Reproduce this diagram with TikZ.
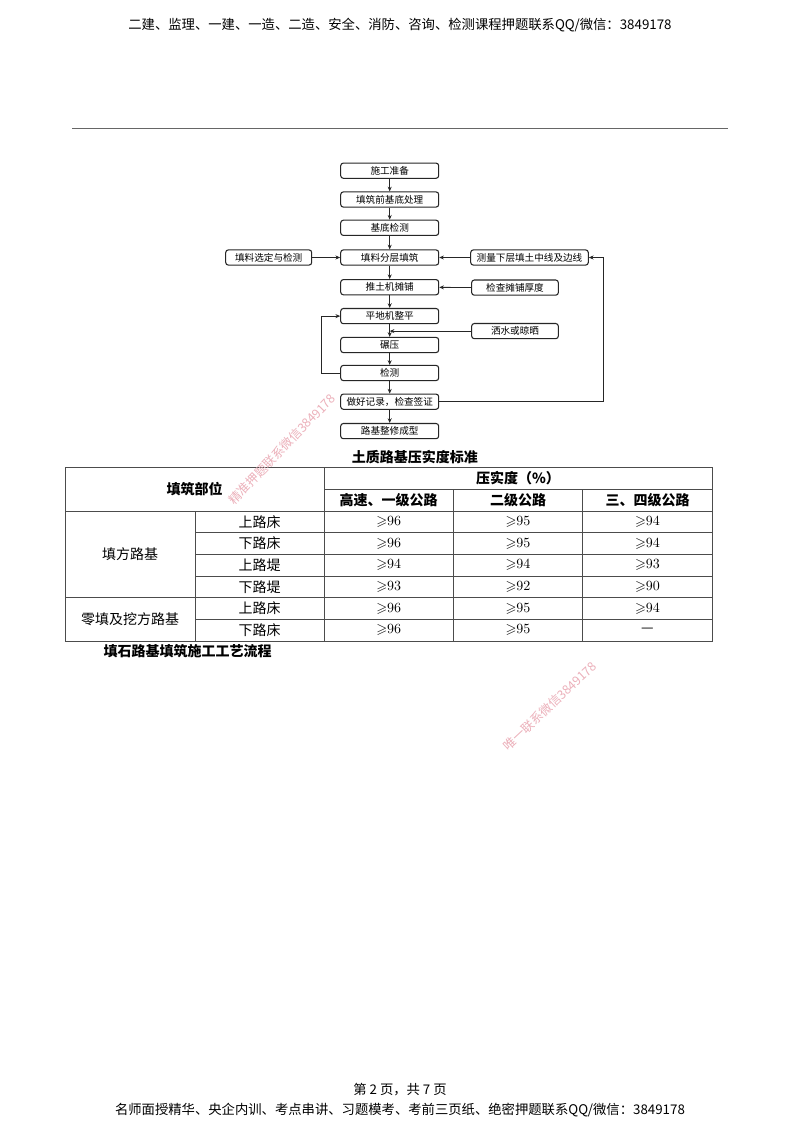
\documentclass[tikz,border=0pt]{standalone}
\usepackage{fontspec}
\usepackage{amssymb}
\usetikzlibrary{arrows.meta}
\newfontfamily\cjk{Noto Sans CJK SC}
\definecolor{wmpink}{RGB}{236,176,186}
\begin{document}
\begin{tikzpicture}[x=0.75pt,y=-0.75pt,
  box/.style={draw=black!85, line width=0.8pt, rounded corners=2pt, minimum height=11.4pt, inner sep=0pt, font=\cjk\fontsize{7.2}{8}\selectfont},
  mbox/.style={box, minimum width=73.5pt},
  arr/.style={-{Stealth[length=3.5pt,width=3pt]}, line width=0.6pt, draw=black!85},
  tl/.style={line width=0.75pt, draw=black!70},
  tt/.style={font=\cjk\fontsize{10.5}{12}\selectfont, inner sep=0pt},
  tb/.style={font=\cjk\bfseries\fontsize{10.5}{12}\selectfont, inner sep=0pt},
  tv/.style={font=\rmfamily\fontsize{10.5}{12}\selectfont, inner sep=0pt},
  wm/.style={font=\cjk\fontsize{9.3}{10}\selectfont, text=wmpink, inner sep=0pt},
  hd/.style={font=\cjk\fontsize{10}{12}\selectfont, inner sep=0pt}]
\useasboundingbox (0,0) rectangle (800,1132);
\fill[white] (0,0) rectangle (800,1132);

% header and footer
\node[hd] (head) at (400,25) {二建、监理、一建、一造、二造、安全、消防、咨询、检测课程押题联系QQ/微信：3849178};
\draw[line width=0.9pt, draw=black!60] (72.3,128.7) -- (727.7,128.7);
\node[hd] (pg) at (400,1090) {第 2 页，共 7 页};
\node[hd] (foot) at (400,1110) {名师面授精华、央企内训、考点串讲、习题模考、考前三页纸、绝密押题联系QQ/微信：3849178};

% flowchart main column
\node[mbox] (b1) at (389.7,170.7) {施工准备};
\node[mbox] (b2) at (389.7,199.5) {填筑前基底处理};
\node[mbox] (b3) at (389.7,227.8) {基底检测};
\node[mbox] (b4) at (389.7,257.5) {填料分层填筑};
\node[mbox] (b5) at (389.7,287.2) {推土机摊铺};
\node[mbox] (b6) at (389.7,316.1) {平地机整平};
\node[mbox] (b7) at (389.7,345.0) {碾压};
\node[mbox] (b8) at (389.7,373.0) {检测};
\node[mbox] (b9) at (389.7,401.7) {做好记录，检查签证};
\node[mbox] (b10) at (389.7,431.1) {路基整修成型};

% side boxes
\node[box, minimum width=64.5pt] (s1) at (268.7,257.5) {填料选定与检测};
\node[box, minimum width=88.2pt] (s2) at (529.5,257.5) {测量下层填土中线及边线};
\node[box, minimum width=65pt] (s3) at (515,287.6) {检查摊铺厚度};
\node[box, minimum width=65pt] (s4) at (515,331.1) {洒水或晾晒};
\coordinate (rc) at (603,330);

\foreach \a/\b in {b1/b2,b2/b3,b3/b4,b4/b5,b5/b6,b6/b7,b7/b8,b8/b9,b9/b10}
  \draw[arr] (\a) -- (\b);
\draw[arr] (s1) -- (b4);
\draw[arr] (s2) -- (b4);
\draw[arr] (s3) -- (b5);
\draw[arr] (s4.west) -- (s4.west -| b6.south);
\draw[arr] (b8.west) -- ++(-19,0) |- (b6.west);
\draw[arr] (b9.east) -- (b9.east -| rc) |- (s2.east);

% table
\node[tb] (title) at (414.8,456.7) {土质路基压实度标准};
\draw[tl] (65,467.7) rectangle (712.3,641);
\draw[tl] (324,489.3) -- (712.3,489.3);
\draw[tl] (65,511) -- (712.3,511);
\foreach \y in {532.7,554.3,576,619.3} \draw[tl] (195,\y) -- (712.3,\y);
\draw[tl] (65,597.7) -- (712.3,597.7);
\draw[tl] (195,511) -- (195,641);
\draw[tl] (324,467.7) -- (324,641);
\draw[tl] (453.3,489.3) -- (453.3,641);
\draw[tl] (582.7,489.3) -- (582.7,641);

\node[tb] (h1) at (194.5,489.3) {填筑部位};
\node[tb] (h2) at (518,478.5) {压实度（\%）};
\node[tb] (h3) at (388.7,500.2) {高速、一级公路};
\node[tb] (h4) at (518,500.2) {二级公路};
\node[tb] (h5) at (647.5,500.2) {三、四级公路};

\node[tt] (g1) at (130,554.3) {填方路基};
\node[tt] (g2) at (130,619.3) {零填及挖方路基};

\node[tt] (p1) at (259.5,521.85) {上路床};
\node[tt] (p2) at (259.5,543.5) {下路床};
\node[tt] (p3) at (259.5,565.15) {上路堤};
\node[tt] (p4) at (259.5,586.85) {下路堤};
\node[tt] (p5) at (259.5,608.5) {上路床};
\node[tt] (p6) at (259.5,630.15) {下路床};

\foreach \y/\a/\b/\c [count=\i] in {521.85/96/95/94, 543.5/96/95/94, 565.15/94/94/93, 586.85/93/92/90, 608.5/96/95/94}{
  \node[tv] (v\i a) at (388.7,\y) {$\geqslant$\a};
  \node[tv] (v\i b) at (518,\y) {$\geqslant$\b};
  \node[tv] (v\i c) at (647.5,\y) {$\geqslant$\c};
}
\node[tv] (v6a) at (388.7,630.15) {$\geqslant$96};
\node[tv] (v6b) at (518,630.15) {$\geqslant$95};
\node[tt] (v6c) at (647.5,630.15) {—};

\node[tb] (sub) at (187.5,650.7) {填石路基填筑施工工艺流程};

% watermarks
\node[wm, rotate=46] (w1) at (282,449) {精准押题联系微信3849178};
\node[wm, rotate=43] (w2) at (550,706) {唯一联系微信3849178};
\end{tikzpicture}
\end{document}
